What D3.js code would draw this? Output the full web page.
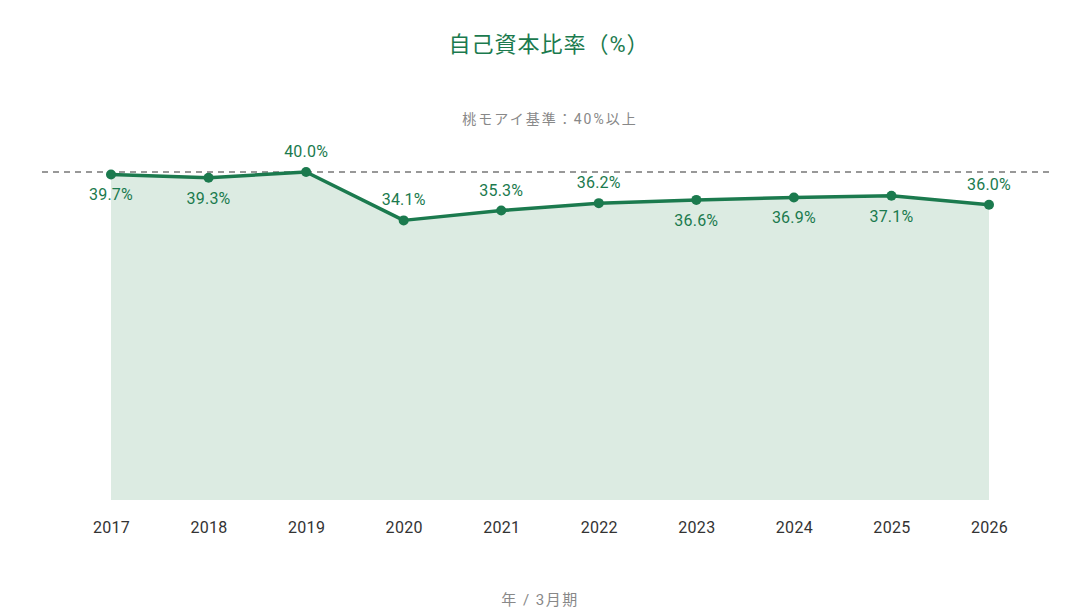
<!DOCTYPE html>
<html>
<head>
<meta charset="utf-8">
<script src="https://cdn.jsdelivr.net/npm/d3@7"></script>
<style>
  body { margin: 0; background: #fff; }
  text { font-family: Roboto, "Noto Sans CJK JP", sans-serif; }
</style>
</head>
<body>
<svg id="chart"></svg>
<script>
var years = ["2017","2018","2019","2020","2021","2022","2023","2024","2025","2026"];
var ratios = [39.7, 39.3, 40.0, 34.1, 35.3, 36.2, 36.6, 36.9, 37.1, 36.0];
var labelPos = ["below","below","above","above","above","above","below","below","below","above"];
var benchmark = 40;

var svgWidth = 1078, svgHeight = 616;
var green = "#1b7a4e";

var svg = d3.select("#chart")
            .attr("width", svgWidth)
            .attr("height", svgHeight);

var x = d3.scalePoint().domain(years).range([111, 989]);
var y = d3.scaleLinear().domain([0, 40]).range([500, 172]);

var data = years.map(function(d, i) { return { year: d, value: ratios[i], pos: labelPos[i] }; });

// area
var area = d3.area()
             .x(function(d) { return x(d.year); })
             .y0(y(0))
             .y1(function(d) { return y(d.value); });
svg.append("path")
   .datum(data)
   .attr("d", area)
   .attr("fill", "#dcebe2");

// benchmark line
svg.append("line")
   .attr("x1", 42).attr("x2", 1050)
   .attr("y1", y(benchmark)).attr("y2", y(benchmark))
   .attr("stroke", "#777")
   .attr("stroke-width", 1.6)
   .attr("stroke-dasharray", "6,5");

// line
var line = d3.line()
             .x(function(d) { return x(d.year); })
             .y(function(d) { return y(d.value); });
svg.append("path")
   .datum(data)
   .attr("d", line)
   .attr("fill", "none")
   .attr("stroke", green)
   .attr("stroke-width", 3.5)
   .attr("stroke-linejoin", "round");

svg.selectAll("circle.pt")
   .data(data)
   .enter()
   .append("circle")
   .attr("class", "pt")
   .attr("cx", function(d) { return x(d.year); })
   .attr("cy", function(d) { return y(d.value); })
   .attr("r", 5)
   .attr("fill", green);

svg.selectAll("text.val")
   .data(data)
   .enter()
   .append("text")
   .attr("class", "val")
   .attr("x", function(d) { return x(d.year); })
   .attr("y", function(d) { return y(d.value) + (d.pos === "above" ? -15 : 26); })
   .attr("text-anchor", "middle")
   .attr("font-size", 16)
   .attr("letter-spacing", 0.2)
   .attr("fill", green)
   .text(function(d) { return d.value.toFixed(1) + "%"; });

// x axis
var xAxis = svg.append("g")
   .attr("transform", "translate(0,500)")
   .call(d3.axisBottom(x).tickSize(0).tickPadding(21.5));
xAxis.select(".domain").remove();
xAxis.selectAll("text")
     .attr("font-size", 16)
     .attr("letter-spacing", 0.3)
     .attr("font-family", "Roboto, sans-serif")
     .attr("fill", "#333");

// titles
svg.append("text")
   .attr("x", 549).attr("y", 52)
   .attr("text-anchor", "middle")
   .attr("font-size", 22)
   .attr("letter-spacing", 1)
   .attr("fill", green)
   .text("自己資本比率（%）");

svg.append("text")
   .attr("x", 550).attr("y", 124)
   .attr("text-anchor", "middle")
   .attr("font-size", 14)
   .attr("letter-spacing", 2)
   .attr("fill", "#888")
   .text("桃モアイ基準：40%以上");

svg.append("text")
   .attr("x", 540).attr("y", 605)
   .attr("text-anchor", "middle")
   .attr("font-size", 15)
   .attr("letter-spacing", 1.5)
   .attr("fill", "#888")
   .text("年 / 3月期");
</script>
</body>
</html>
